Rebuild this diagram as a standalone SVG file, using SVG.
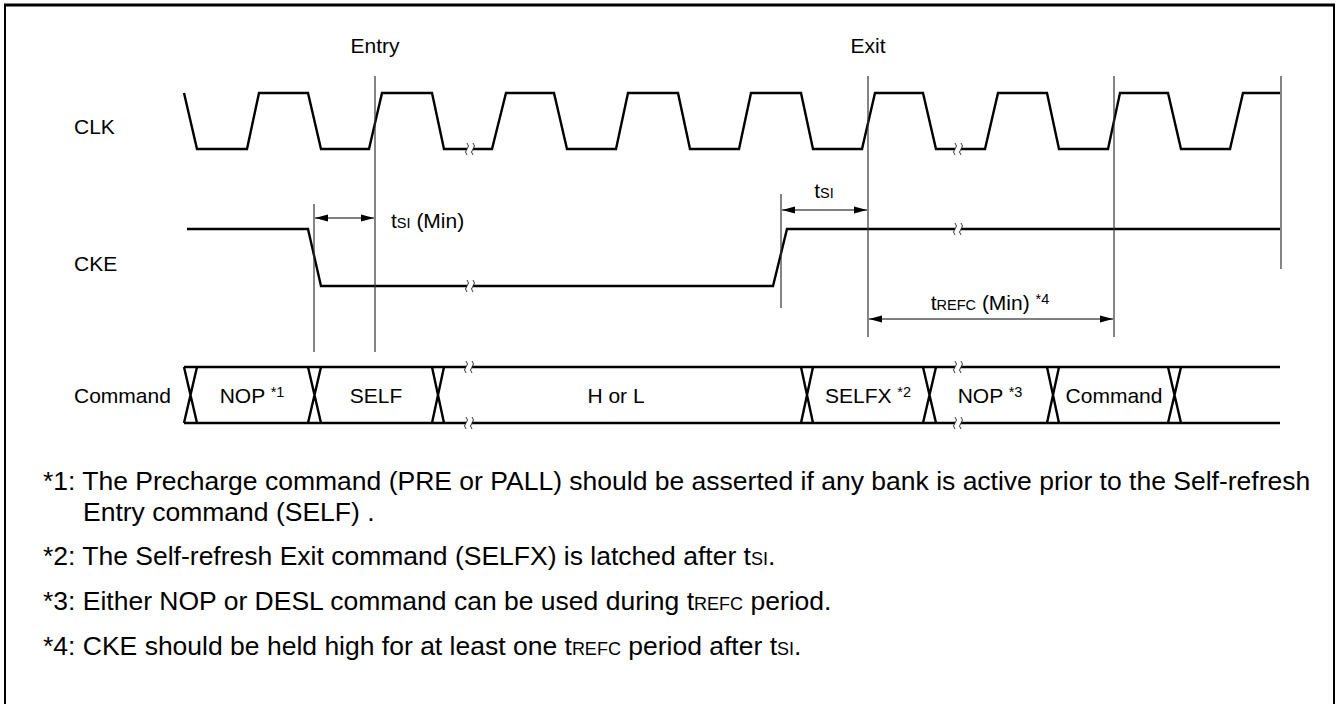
<svg xmlns="http://www.w3.org/2000/svg" width="1337" height="704" viewBox="0 0 1337 704">
<style>
text{font-family:"Liberation Sans",Arial,Helvetica,sans-serif;font-size:21px;fill:#000}
.note text{font-size:26.5px}
.note .sub{font-size:18px}
.sig{fill:none;stroke:#000;stroke-width:2.4;stroke-linejoin:miter}
.ref{stroke:#333;stroke-width:1.2}
.dim{stroke:#000;stroke-width:1.2;marker-start:url(#ah);marker-end:url(#ah)}
.sq{fill:none;stroke:#333;stroke-width:1}
.sub{font-size:14.5px}
.sup{font-size:14.5px}
.mid{text-anchor:middle}
</style>
<defs>
<marker id="ah" viewBox="0 0 13 8" refX="13" refY="4" markerWidth="13" markerHeight="8" markerUnits="userSpaceOnUse" orient="auto-start-reverse">
<path d="M0,0.5 L13,4 L0,7.5 z" fill="#000"/>
</marker>
<g id="brk">
<rect x="-3" y="-3" width="6" height="6" fill="#fff"/>
<path class="sq" d="M-3,-6 q3,3 0,6 q-3,3 0,6"/>
<path class="sq" d="M3,-6 q3,3 0,6 q-3,3 0,6"/>
</g>
</defs>
<g id="frame">
<rect x="5" y="5" width="1329" height="720" fill="none" stroke="#000" stroke-width="2"/>
<line x1="4" y1="5" x2="1335" y2="5" stroke="#000" stroke-width="3"/>
</g>

<g id="labels">
<text x="375" y="53" class="mid">Entry</text>
<text x="868" y="53" class="mid">Exit</text>
<text x="74" y="134">CLK</text>
<text x="74" y="271">CKE</text>
<text x="74" y="403">Command</text>
</g>

<g id="clk">
<path class="sig" d="M184,93 L197,149 L247,149 L259,93 L308,93 L321,149 L369,149 L382,93 L432,93 L444,149 L492,149 L506,93 L554,93 L567,149 L616,149 L628,93 L678,93 L690,149 L739,149 L751,93 L801,93 L813,149 L862,149 L875,93 L923,93 L936,149 L985,149 L998,93 L1047,93 L1059,149 L1108,149 L1120,93 L1168,93 L1181,149 L1230,149 L1243,93 L1280,93"/>
<use href="#brk" x="470" y="149"/>
<use href="#brk" x="958" y="149"/>
</g>

<g id="cke">
<path class="sig" d="M187,229 L308,229 L321,286 L773,286 L787,229 L1280,229"/>
<use href="#brk" x="470" y="286"/>
<use href="#brk" x="958" y="229"/>
</g>

<g id="command">
<path class="sig" d="M184,367 L1280,367 M184,423 L1280,423"/>
<path class="sig" d="M184,367 L197,423 M184,423 L197,367 M308,367 L321,423 M308,423 L321,367 M432,367 L444,423 M432,423 L444,367 M801,367 L813,423 M801,423 L813,367 M923,367 L936,423 M923,423 L936,367 M1047,367 L1059,423 M1047,423 L1059,367 M1168,367 L1181,423 M1168,423 L1181,367"/>
<use href="#brk" x="469" y="367"/>
<use href="#brk" x="469" y="423"/>
<use href="#brk" x="958" y="367"/>
<use href="#brk" x="958" y="423"/>
<text x="252" y="403" class="mid">NOP <tspan class="sup" dy="-6">*1</tspan></text>
<text x="376" y="403" class="mid">SELF</text>
<text x="616" y="403" class="mid">H or L</text>
<text x="868" y="403" class="mid">SELFX <tspan class="sup" dy="-6">*2</tspan></text>
<text x="990" y="403" class="mid">NOP <tspan class="sup" dy="-6">*3</tspan></text>
<text x="1114" y="403" class="mid">Command</text>
</g>

<g id="connectors">
<line class="ref" x1="314" y1="204" x2="314" y2="352"/>
<line class="ref" x1="375" y1="76" x2="375" y2="352"/>
<line class="ref" x1="781" y1="194" x2="781" y2="308"/>
<line class="ref" x1="868" y1="76" x2="868" y2="337"/>
<line class="ref" x1="1114" y1="76" x2="1114" y2="337"/>
<line class="ref" x1="1281" y1="76" x2="1281" y2="269"/>
<line class="dim" x1="315" y1="218" x2="374" y2="218"/>
<line class="dim" x1="782" y1="210" x2="867" y2="210"/>
<line class="dim" x1="869" y1="319" x2="1113" y2="319"/>
<text x="391" y="228">t<tspan class="sub">SI</tspan> (Min)</text>
<text x="824" y="198" class="mid">t<tspan class="sub">SI</tspan></text>
<text x="990" y="310" class="mid">t<tspan class="sub">REFC</tspan> (Min) <tspan class="sup" dy="-6">*4</tspan></text>
</g>

<g id="notes" class="note">
<text x="43" y="490">*1: The Precharge command (PRE or PALL) should be asserted if any bank is active prior to the Self-refresh</text>
<text x="83" y="521">Entry command (SELF) .</text>
<text x="43" y="565">*2: The Self-refresh Exit command (SELFX) is latched after t<tspan class="sub">SI</tspan>.</text>
<text x="43" y="610">*3: Either NOP or DESL command can be used during t<tspan class="sub">REFC</tspan> period.</text>
<text x="43" y="655">*4: CKE should be held high for at least one t<tspan class="sub">REFC</tspan> period after t<tspan class="sub">SI</tspan>.</text>
</g>
</svg>
